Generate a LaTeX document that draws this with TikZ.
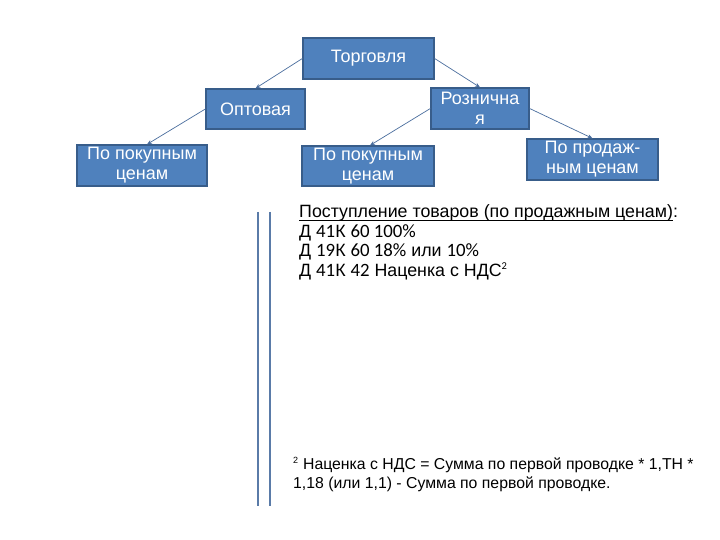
\documentclass[tikz,border=0pt]{standalone}
\usepackage{fontspec}
\setmainfont{Liberation Sans}
\newfontfamily\arialf{Liberation Sans}
\newfontfamily\carl{Carlito}
\usetikzlibrary{arrows.meta}
\definecolor{boxfill}{HTML}{4F81BD}
\definecolor{boxdraw}{HTML}{385D8A}
\definecolor{linkc}{HTML}{4A6E9E}
\definecolor{vline}{HTML}{5A7BA8}
\newcommand{\dg}[1]{{\carl\fontsize{18.8}{19}\selectfont #1}}
\newcommand{\myul}[1]{\setbox0\hbox{#1}\rlap{\rule[-2.6pt]{\wd0}{0.9pt}}\box0}
\tikzset{
  box/.style={draw=boxdraw, fill=boxfill, line width=1.3pt, text=white,
    font=\arialf\fontsize{18}{20}\selectfont, align=center, inner sep=0pt},
  link/.style={draw=linkc, line width=0.7pt, -{Stealth[length=5pt,width=4pt]}},
  txt/.style={anchor=base west, inner sep=0pt, font=\arialf\fontsize{17.8}{19}\selectfont},
  note/.style={anchor=base west, inner sep=0pt, font=\arialf\fontsize{15.8}{19}\selectfont}
}
\begin{document}
\begin{tikzpicture}[x=1pt,y=-1pt]
\useasboundingbox (0,0) rectangle (720,540);
\fill[white] (0,0) rectangle (720,540);
\node[box, minimum width=131pt, minimum height=41pt] (torg) at (368.5,58.5) {Торговля};
\node[box, minimum width=99pt, minimum height=40pt] (opt) at (255.5,109) {Оптовая};
\node[box, minimum width=98pt, minimum height=41pt] (roz) at (480,108.5) {Рознична\\я};
\node[box, minimum width=130pt, minimum height=41pt] (lb) at (142,165.5) {По покупным\\ценам};
\node[box, minimum width=132pt, minimum height=40pt] (mb) at (368,166) {По покупным\\ценам};
\node[box, minimum width=131pt, minimum height=41pt] (rb) at (592.5,159.5) {По продаж-\\ным ценам};
\draw[link] (torg.west) -- (opt.north);
\draw[link] (torg.east) -- (roz.north);
\draw[link] (opt.west) -- ([xshift=5pt]lb.north);
\draw[link] (roz.west) -- ([xshift=2pt]mb.north);
\draw[link] (roz.east) -- (rb.north);
\coordinate (v1a) at (258,212); \coordinate (v1b) at (258,506);
\coordinate (v2a) at (270,212); \coordinate (v2b) at (270,506);
\draw[vline, line width=1.8pt] (v1a) -- (v1b);
\draw[vline, line width=1.8pt] (v2a) -- (v2b);
\node[txt] (t1) at (299,218) {\myul{Поступление товаров (по продажным ценам)}:};
\node[txt] (t2) at (299,237) {Д \dg{41}К \dg{60 100\%}};
\node[txt] (t3) at (299,256) {Д \dg{19}К \dg{60 18\%} или \dg{10\%}};
\node[txt] (t4) at (299,276) {Д \dg{41}К \dg{42} Наценка с НДС\textsuperscript{\dg{\fontsize{10.5}{10.5}\selectfont 2}}};
\node[note] (f1) at (293,469) {\textsuperscript{\fontsize{9}{9}\selectfont 2} Наценка с НДС = Сумма по первой проводке * 1,ТН *};
\node[note] (f2) at (293,488) {1,18 (или 1,1) - Сумма по первой проводке.};
\end{tikzpicture}
\end{document}
